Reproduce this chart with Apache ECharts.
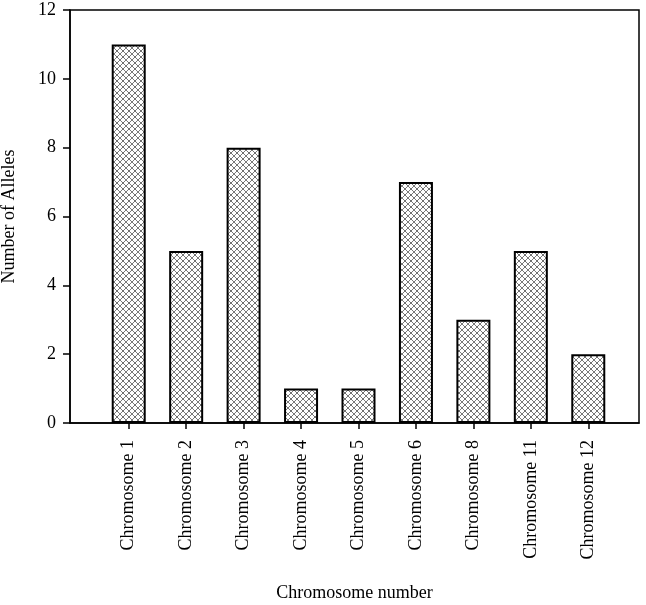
<!DOCTYPE html>
<html><head><meta charset="utf-8">
<script src="https://cdn.jsdelivr.net/npm/echarts@6/dist/echarts.min.js"></script>
<style>html,body{margin:0;padding:0;background:#fff}#c{width:646px;height:605px}</style>
</head><body><div id="c"></div>
<script>
const categories = ['Chromosome 1','Chromosome 2','Chromosome 3','Chromosome 4','Chromosome 5','Chromosome 6','Chromosome 8','Chromosome 11','Chromosome 12'];
const alleles = [11, 5, 8, 1, 1, 7, 3, 5, 2];
const yTicks = [0, 2, 4, 6, 8, 10, 12];

const pc = document.createElement('canvas');
pc.width = 6; pc.height = 6;
const g = pc.getContext('2d');
g.fillStyle = '#ffffff'; g.fillRect(0,0,6,6);
g.strokeStyle = '#7a7a7a'; g.lineWidth = 1;
g.beginPath(); g.moveTo(0,0); g.lineTo(6,6); g.moveTo(6,0); g.lineTo(0,6); g.stroke();
g.fillStyle = '#555'; g.fillRect(2.5,2.5,1,1);

const font = 'Liberation Serif';
const chart = echarts.init(document.getElementById('c'));
chart.setOption({
  animation: false,
  grid: [
    {left: 70, right: 7, top: 10, bottom: 182, show: true, borderColor: '#000', borderWidth: 1.5, backgroundColor: 'transparent', outerBoundsMode: 'none', containLabel: false},
    {left: 100, right: 29, top: 10, bottom: 182, outerBoundsMode: 'none', containLabel: false}
  ],
  xAxis: [
    {gridIndex: 0, type: 'value', min: 0, max: 1, axisLine: {show: true, lineStyle: {color: '#000', width: 1.5}}, axisTick: {show: false}, axisLabel: {show: false}, splitLine: {show: false},
     name: 'Chromosome number', nameLocation: 'middle', nameGap: 161, nameTextStyle: {fontFamily: font, fontSize: 18, color: '#000'}},
    {gridIndex: 1, type: 'category', data: categories, axisLine: {show: false},
     axisTick: {show: true, alignWithLabel: true, length: 6, lineStyle: {color: '#000', width: 1.5}},
     axisLabel: {rotate: 90, margin: 17, fontFamily: font, fontSize: 18, color: '#000'}}
  ],
  yAxis: [
    {gridIndex: 0, type: 'value', min: 0, max: 12, interval: 2,
     axisLine: {show: true, lineStyle: {color: '#000', width: 1.5}},
     axisTick: {show: true, length: 7, lineStyle: {color: '#000', width: 1.5}},
     axisLabel: {fontFamily: font, fontSize: 18, color: '#000', margin: 14, formatter: v => yTicks.includes(v) ? String(v) : ''},
     splitLine: {show: false},
     name: 'Number of Alleles', nameLocation: 'middle', nameGap: 52, nameTextStyle: {fontFamily: font, fontSize: 18, color: '#000'}},
    {gridIndex: 1, type: 'value', min: 0, max: 12, show: false}
  ],
  series: [{
    type: 'bar', xAxisIndex: 1, yAxisIndex: 1, data: alleles, barWidth: 34,
    itemStyle: {color: {image: pc, repeat: 'repeat'}, borderColor: '#000', borderWidth: 2}
  }]
});
</script></body></html>
